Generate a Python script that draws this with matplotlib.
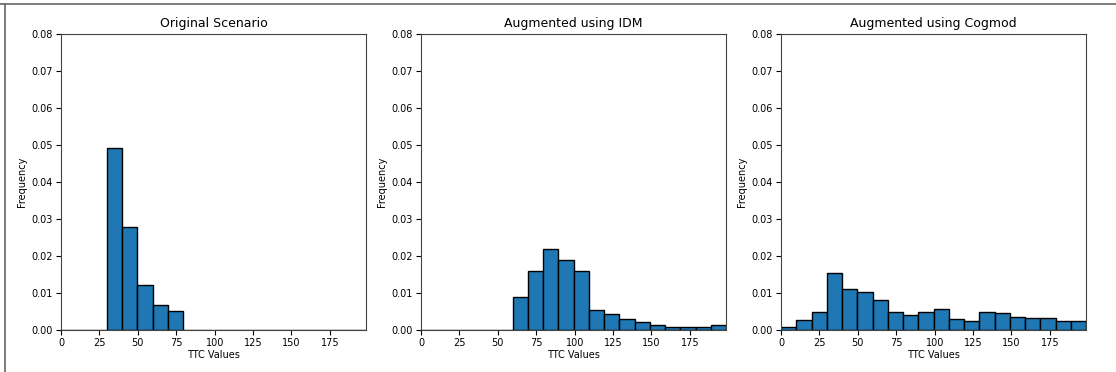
import numpy as np
import matplotlib
matplotlib.use("Agg")
import matplotlib.pyplot as plt
from matplotlib.lines import Line2D

# Bin edges (20 bins over 0..~198)
bin_edges = np.linspace(0, 198.5, 21)

titles = ["Original Scenario", "Augmented using IDM", "Augmented using Cogmod"]

# Density heights per bin
original = [0, 0, 0, 0.0493, 0.0280, 0.0121, 0.0067, 0.0052, 0, 0,
            0, 0, 0, 0, 0, 0, 0, 0, 0, 0]
idm = [0, 0, 0, 0, 0, 0, 0.0088, 0.0160, 0.0219, 0.0189,
       0.0160, 0.0053, 0.0044, 0.0029, 0.0022, 0.0014, 0.0008, 0.0008, 0.0008, 0.0014]
cogmod = [0.0008, 0.0027, 0.0048, 0.0153, 0.0110, 0.0102, 0.0082, 0.0050, 0.0041, 0.0048,
          0.0058, 0.0031, 0.0025, 0.0050, 0.0045, 0.0036, 0.0032, 0.0032, 0.0023, 0.0023]

series = [original, idm, cogmod]

x_ticks = [0, 25, 50, 75, 100, 125, 150, 175]
y_ticks = [0.00, 0.01, 0.02, 0.03, 0.04, 0.05, 0.06, 0.07, 0.08]

W, H = 1116, 372
fig = plt.figure(figsize=(W / 100, H / 100), dpi=100)

lefts = [61, 421, 781]
for i, (title, vals) in enumerate(zip(titles, series)):
    ax = fig.add_axes([lefts[i] / W, (H - 330) / H, 305 / W, 295.7 / H])
    centers = (bin_edges[:-1] + bin_edges[1:]) / 2
    ax.hist(centers, bins=bin_edges, weights=vals, color="#1f77b4",
            edgecolor="black", linewidth=1.0)
    ax.set_xlim(bin_edges[0], bin_edges[-1])
    ax.set_ylim(0, 0.08)
    ax.set_xticks(x_ticks)
    ax.set_yticks(y_ticks)
    ax.set_yticklabels([f"{v:.2f}" for v in y_ticks])
    ax.tick_params(labelsize=7, length=3.5, width=0.8, pad=2.5)
    ax.set_title(title, fontsize=9, pad=5)
    ax.set_xlabel("TTC Values", fontsize=7, labelpad=1.5)
    ax.set_ylabel("Frequency", fontsize=7, labelpad=3)
    for s in ax.spines.values():
        s.set_linewidth(0.8)
        s.set_color("#444444")

# screenshot border lines (top and left)
fig.add_artist(Line2D([0, 1], [1 - 4 / H, 1 - 4 / H], color="#666666", lw=1.2,
                      transform=fig.transFigure))
fig.add_artist(Line2D([5 / W, 5 / W], [0, 1 - 4 / H], color="#666666", lw=1.2,
                      transform=fig.transFigure))

fig.savefig("out.png", dpi=100)
